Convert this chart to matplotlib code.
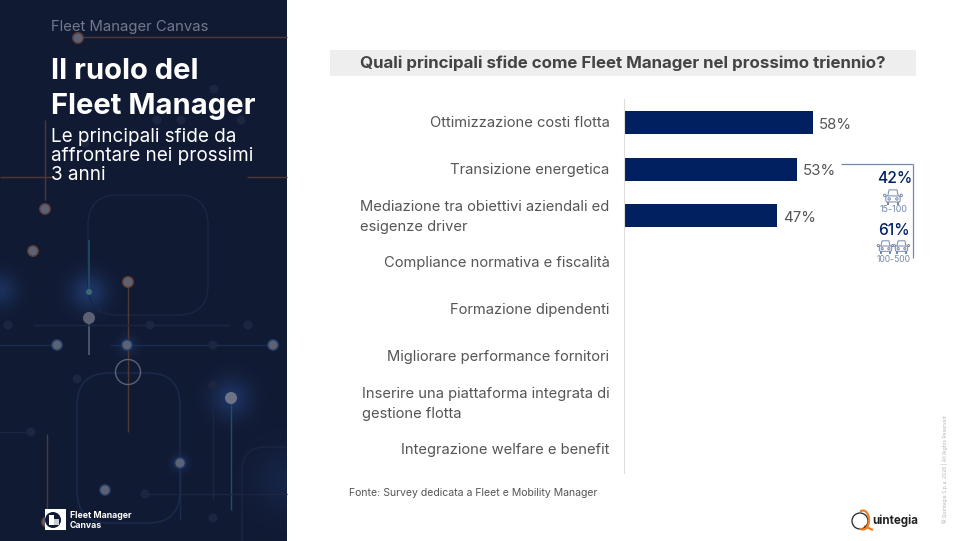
import numpy as np
import matplotlib
matplotlib.use("Agg")
import matplotlib.pyplot as plt
from matplotlib.patches import Rectangle, Circle, FancyBboxPatch, Arc, Polygon
from matplotlib.transforms import ScaledTranslation

plt.rcParams['font.family'] = ['Inter', 'DejaVu Sans']

# --- Data ---
categories = [
    "Ottimizzazione costi flotta",
    "Transizione energetica",
    "Mediazione tra obiettivi aziendali ed\nesigenze driver",
    "Compliance normativa e fiscalità",
    "Formazione dipendenti",
    "Migliorare performance fornitori",
    "Inserire una piattaforma integrata di\ngestione flotta",
    "Integrazione welfare e benefit",
]
values = [58, 53, 47, np.nan, np.nan, np.nan, np.nan, np.nan]
chart_title = "Quali principali sfide come Fleet Manager nel prossimo triennio?"
callout_values = ["42%", "61%"]
callout_sizes = ["15-100", "100-500"]

# --- Colours ---
NAVY = "#002060"
PANEL = np.array([17, 26, 51]) / 255
BLUE_LINE = "#1a2c4f"
ORANGE_LINE = "#523733"
DOT = "#5c6274"
FAINT = "#1c2640"
CALLOUT = "#7488ad"

W, H = 961, 541
fig = plt.figure(figsize=(W / 100, H / 100), dpi=100, facecolor="white")

# pixel canvas for the slide decoration
bg = fig.add_axes([0, 0, 1, 1])
bg.axis("off")

# --- Step 1: dark panel with soft glows ---
gx, gy = np.meshgrid(np.arange(287) + 0.5, np.arange(H) + 0.5)
light = np.zeros_like(gx)
for cx, cy, sigma, amp in [(89, 292, 13, 0.28), (231, 398, 14, 0.25), (0, 290, 12, 0.22),
                           (287, 480, 24, 0.10), (128, 345, 7, 0.15), (180, 463, 6, 0.18)]:
    light += amp * np.exp(-((gx - cx) ** 2 + (gy - cy) ** 2) / (2 * sigma ** 2))
panel = PANEL + light[..., None] * (np.array([45, 100, 185]) / 255)
bg.imshow(panel, extent=(0, 287, H, 0), aspect="auto", zorder=0, interpolation="bilinear")
bg.set_xlim(0, W)
bg.set_ylim(H, 0)
clip = Rectangle((0, 0), 287, H, transform=bg.transData)


def seg(x0, y0, x1, y1, color=BLUE_LINE, lw=1.0):
    bg.plot([x0, x1], [y0, y1], color=color, lw=lw, solid_capstyle="butt", zorder=2)


def dot(x, y, r=4.5, ring=None, color=DOT):
    if ring:
        bg.add_patch(Circle((x, y), r + 1.5, fc=ring, ec="none", zorder=3))
    bg.add_patch(Circle((x, y), r, fc=color, ec="none", zorder=4))


# circuit lines
seg(78, 37, 287, 37, ORANGE_LINE)
seg(45, 120, 45, 200, ORANGE_LINE)
seg(0, 177, 55, 177, ORANGE_LINE)
seg(247, 177, 287, 177, ORANGE_LINE)
seg(128, 282, 128, 432, ORANGE_LINE)
seg(47, 434, 47, 520, ORANGE_LINE)
seg(0, 345, 57, 345)
seg(110, 345, 273, 345)
seg(89, 318, 89, 355, "#565d70", 1.2)
seg(89, 240, 89, 292, "#1d4f66", 1.2)
seg(231, 398, 231, 510, "#1d4f66", 1.0)
seg(213, 385, 213, 500, FAINT)
seg(33, 325, 230, 325, FAINT)
seg(0, 432, 31, 432, FAINT)
seg(145, 494, 287, 494, FAINT)
seg(180, 463, 180, 520)

for box, col in [((77, 373, 103, 150, 32), BLUE_LINE), ((242, 447, 80, 120, 24), FAINT),
                 ((88, 195, 120, 120, 30), FAINT)]:
    p = FancyBboxPatch((box[0] + box[4], box[1] + box[4]), box[2] - 2 * box[4], box[3] - 2 * box[4],
                       boxstyle=f"round,pad={box[4]},rounding_size={box[4]}",
                       fc="none", ec=col, lw=1.0, zorder=1.8)
    bg.add_patch(p)
    p.set_clip_path(clip)

# nodes
dot(78, 38, 4.5, ring="#5a3a36")
dot(128, 282, 4.5, ring="#6b3d2e")
dot(45, 209, 4.5, ring="#5a3a36")
dot(33, 251, 4.5, ring="#5a3a36")
dot(47, 522, 4.5, ring="#5a3a36")
dot(89, 318, 6)
dot(89, 292, 3, color="#3c6a72")
dot(57, 345, 4.5, ring="#1e3a66")
dot(127, 345, 4.5, ring="#1e3a66")
dot(273, 345, 4.5, ring="#1e3a66")
dot(180, 463, 4.5, ring="#1e3a66")
dot(105, 490, 4.5, ring="#1e3a66")
dot(231, 398, 6, color="#6d7486")
for fx, fy in [(214, 89), (157, 120), (181, 120), (241, 120), (85, 143), (150, 325), (8, 325),
               (248, 325), (213, 345), (213, 385), (77, 379), (31, 432), (145, 494), (213, 518)]:
    dot(fx, fy, 4.5, color=FAINT)
bg.add_patch(Circle((128, 372), 12.5, fc="none", ec="#5c6274", lw=1.0, zorder=4))

# panel text
bg.text(51, 27, "Fleet Manager Canvas", color="#74788a", fontsize=10.7, va="center", zorder=6)
bg.text(51, 71.5, "Il ruolo del", color="white", fontsize=21, fontweight="bold", va="center", zorder=6)
bg.text(51, 106.5, "Fleet Manager", color="white", fontsize=21, fontweight="bold", va="center", zorder=6)
for yy, line in zip([137.5, 156, 175], ["Le principali sfide da", "affrontare nei prossimi", "3 anni"]):
    bg.text(51, yy, line, color="white", fontsize=13.6, va="center", zorder=6)

# panel logo
bg.add_patch(Rectangle((45, 509), 21, 21, fc="white", ec="none", zorder=5))
bg.add_patch(Circle((53, 520), 8, fc=tuple(PANEL), ec="none", zorder=6))
bg.add_patch(Rectangle((49, 515), 5, 10, fc="white", ec="none", zorder=7))
bg.add_patch(Rectangle((54, 519), 5, 6, fc="#c8ccd4", ec="none", zorder=7))
bg.text(70, 515.5, "Fleet Manager", color="white", fontsize=6.3, fontweight="bold", va="center", zorder=6)
bg.text(70, 525, "Canvas", color="white", fontsize=6.3, fontweight="bold", va="center", zorder=6)

# chart title band
bg.add_patch(Rectangle((330, 50), 586, 26, fc="#eeeeee", ec="none", zorder=1))
bg.text(623, 63, chart_title, color="#444444", fontsize=12.2, fontweight="bold",
        ha="center", va="center", zorder=2)

# --- Step 2: bar chart ---
ax = fig.add_axes([624 / W, 1 - 473 / H, 325.5 / W, 374 / H])
ax.patch.set_alpha(0)
y = np.arange(len(categories))
ax.barh(y, values, height=0.49, color=NAVY)
for yi, v in zip(y, values):
    if not np.isnan(v):
        ax.text(v + 1.8, yi + 0.05, f"{v}%", color="#555555", fontsize=10.8, va="center")
ax.set_xlim(0, 100)
ax.set_ylim(len(categories) - 0.5, -0.5)
ax.set_xticks([])
ax.set_yticks(y)
ax.set_yticklabels(categories, fontsize=10.6, color="#555555", multialignment="left", linespacing=1.55)
ax.tick_params(axis="y", length=0, pad=10.5)
for lab in ax.get_yticklabels():
    # two-line labels sit a little higher than the single-line ones
    shift = 3.5 if "\n" in lab.get_text() else 1
    lab.set_transform(lab.get_transform() + ScaledTranslation(0, shift / 100, fig.dpi_scale_trans))
for s in ["top", "right", "bottom"]:
    ax.spines[s].set_visible(False)
ax.spines["left"].set_color("#dddddd")
ax.spines["left"].set_linewidth(0.8)

# --- Step 3: fleet-size callout ---
seg(841, 164, 913, 164, CALLOUT, 0.9)
seg(913, 164, 913, 258, CALLOUT, 0.9)


def car(cx, cy, s=1.0):
    lw = 0.7
    bg.add_patch(Polygon([(cx - 5 * s, cy), (cx - 3.6 * s, cy - 6.5 * s),
                          (cx + 3.6 * s, cy - 6.5 * s), (cx + 5 * s, cy)],
                         closed=True, fc="white", ec=CALLOUT, lw=lw, zorder=5))
    bg.add_patch(FancyBboxPatch((cx - 6 * s, cy - 0.5 * s), 12 * s, 4.5 * s,
                                boxstyle=f"round,pad={0.5 * s},rounding_size={1.5 * s}",
                                fc="white", ec=CALLOUT, lw=lw, zorder=5))
    for sx in (-1, 1):
        bg.add_patch(Rectangle((cx + sx * 4.5 * s - 1.3 * s, cy + 4.5 * s), 2.6 * s, 2.5 * s,
                               fc=CALLOUT, ec="none", zorder=5))
        bg.add_patch(Circle((cx + sx * 3.5 * s, cy + 1.7 * s), 1.1 * s, fc="white", ec=CALLOUT, lw=lw, zorder=6))
        bg.add_patch(Circle((cx + sx * 7.5 * s, cy - 1.5 * s), 1.1 * s, fc="white", ec=CALLOUT, lw=lw, zorder=5))


bg.text(895, 178.5, callout_values[0], color=NAVY, fontsize=11.2, fontweight="medium", ha="center", va="center")
car(893, 197, 1.1)
bg.text(893.5, 209.5, callout_sizes[0], color=CALLOUT, fontsize=6.4, ha="center", va="center")
bg.text(893.5, 230.5, callout_values[1], color=NAVY, fontsize=11.2, fontweight="medium", ha="center", va="center")
car(885.5, 247, 0.95)
car(901.5, 247, 0.95)
bg.text(894, 259, callout_sizes[1], color=CALLOUT, fontsize=6.2, ha="center", va="center")

# --- Step 4: footer ---
bg.text(349, 493.5, "Fonte: Survey dedicata a Fleet e Mobility Manager", color="#555555",
        fontsize=7.55, va="center")
bg.text(945, 469, "© Quintegia S.p.a. 2026 | All Rights Reserved", color="#b5b5b5", fontsize=3.6,
        rotation=90, ha="center", va="center")

# Quintegia logo
bg.add_patch(Circle((860, 521), 8, fc="none", ec="#222222", lw=0.9, zorder=3))
bg.add_patch(Arc((863, 520), 12, 19, theta1=250, theta2=110, ec="#ee7f26", lw=1.6, zorder=4))
seg(864, 526, 873, 530, "#ee7f26", 1.6)
bg.text(872, 521, "uintegia", color="#222222", fontsize=8.3, fontweight="bold", va="center", zorder=5)

fig.savefig("out.png", dpi=100)
